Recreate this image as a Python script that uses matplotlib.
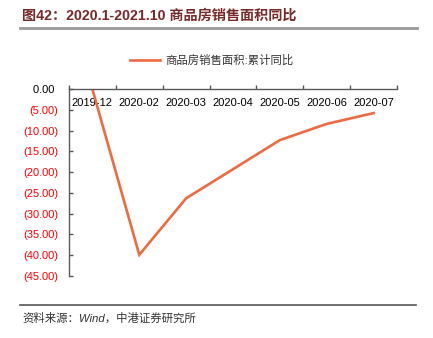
#!/usr/bin/env python3
"""Commercial housing sales area, cumulative YoY (2019-12 to 2020-07)."""

import matplotlib
matplotlib.use("Agg")
import matplotlib.pyplot as plt
from matplotlib.lines import Line2D
import numpy as np

plt.rcParams["font.family"] = ["Liberation Sans", "Noto Sans CJK SC", "DejaVu Sans"]

TITLE = "图42：2020.1-2021.10 商品房销售面积同比"
SERIES_NAME = "商品房销售面积:累计同比"
SOURCE = "资料来源：Wind，中港证券研究所"

months = ["2019-12", "2020-02", "2020-03", "2020-04", "2020-05", "2020-06", "2020-07"]
yoy = [-0.1, -39.9, -26.3, -19.3, -12.3, -8.4, -5.8]
y_ticks = [0, -5, -10, -15, -20, -25, -30, -35, -40, -45]

LINE_COLOR = "#EF6A3E"
TITLE_COLOR = "#7A2A2A"
SPINE_COLOR = "#595959"


def fmt_tick(v):
    if v < 0:
        return f"({abs(v):.2f})"
    return f"{v:.2f} "


def main():
    W, H = 433, 338
    fig = plt.figure(figsize=(W / 100, H / 100), dpi=100)
    ax = fig.add_axes([69 / W, 1 - 276 / H, (397 - 69) / W, (276 - 89) / H])

    x = np.arange(len(months))
    line, = ax.plot(x, yoy, color=LINE_COLOR, linewidth=1.9, solid_joinstyle="miter",
                    label=SERIES_NAME)

    ax.set_xlim(-0.5, len(months) - 0.5)
    ax.set_ylim(-45, 0)

    for side in ("right", "bottom"):
        ax.spines[side].set_visible(False)
    for side in ("left", "top"):
        ax.spines[side].set_color(SPINE_COLOR)
        ax.spines[side].set_linewidth(1.0)

    # category labels sit under the top spine, ticks mark category edges
    ax.xaxis.set_ticks_position("top")
    ax.set_xticks(x)
    ax.set_xticklabels(months)
    ax.set_xticks(np.arange(-0.5, len(months)), minor=True)
    ax.tick_params(axis="x", which="major", length=0, pad=-14, labelsize=8,
                   labeltop=True, labelbottom=False, labelcolor="black")
    ax.tick_params(axis="x", which="minor", direction="out", length=3,
                   width=1.0, color=SPINE_COLOR, top=True, bottom=False)

    ax.set_yticks(y_ticks)
    ax.set_yticklabels([fmt_tick(v) for v in y_ticks])
    ax.tick_params(axis="y", direction="in", length=3, width=1.0, color=SPINE_COLOR,
                   pad=8, labelsize=8)
    for lbl, v in zip(ax.get_yticklabels(), y_ticks):
        lbl.set_color("#FF0000" if v < 0 else "black")

    fig.legend(handles=[line], loc="center", bbox_to_anchor=(212 / W, 1 - 60 / H),
               frameon=False, fontsize=8.2, handlelength=2.6, handletextpad=0.5,
               labelcolor="#333333")

    fig.text(22 / W, 1 - 16 / H, TITLE, fontsize=10.2, fontweight="bold",
             color=TITLE_COLOR, ha="left", va="center")
    fig.add_artist(Line2D([20 / W, 417 / W], [1 - 27.5 / H] * 2, color="#9A9A9A",
                          linewidth=2.0))
    fig.add_artist(Line2D([20 / W, 416 / W], [1 - 305 / H] * 2, color="#555555",
                          linewidth=1.2))
    fig.text(22 / W, 1 - 318 / H, SOURCE, fontsize=8.2, style="italic",
             color="#333333", ha="left", va="center")

    fig.savefig("out.png", dpi=100)
    plt.close(fig)


if __name__ == "__main__":
    main()
